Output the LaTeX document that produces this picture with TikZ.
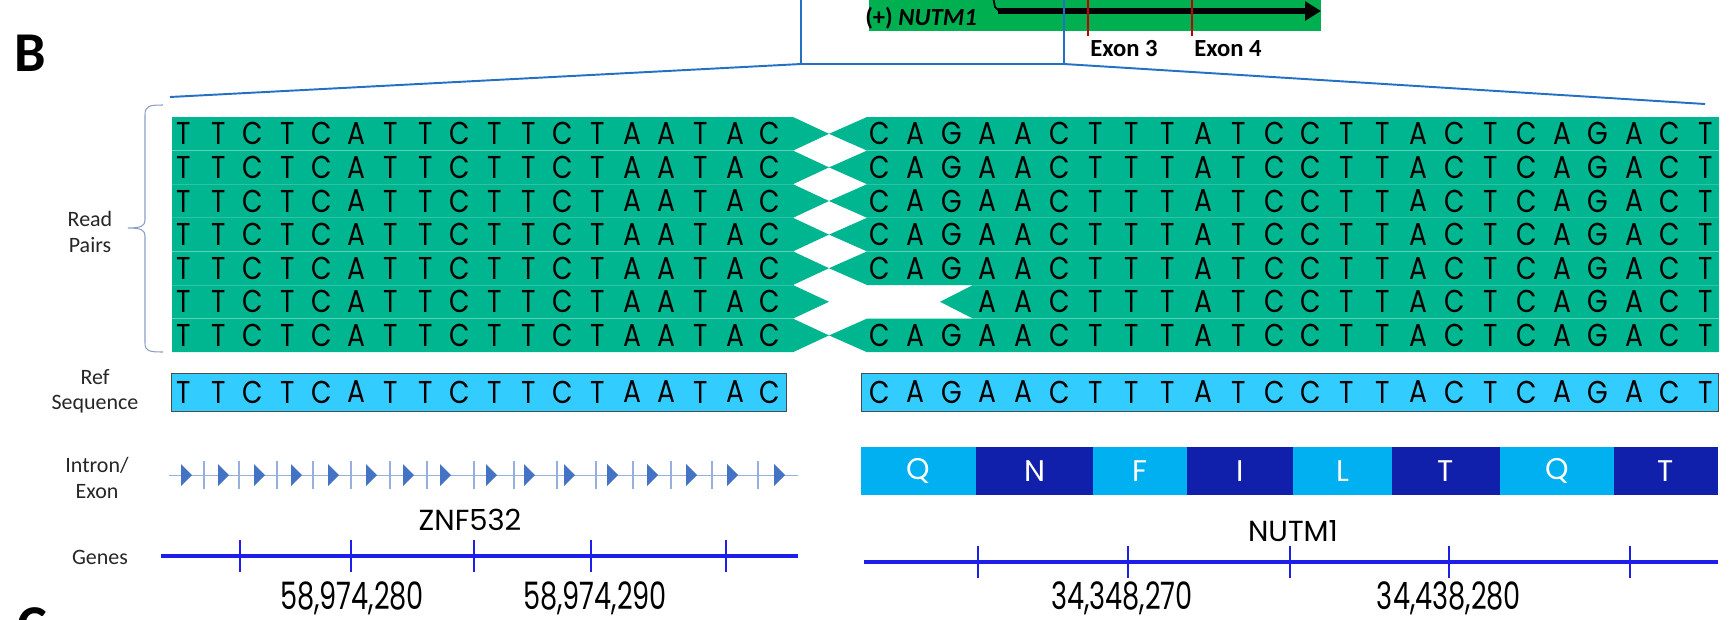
\documentclass[tikz,border=0pt]{standalone}
\usepackage{fontspec}
\setmainfont{Carlito}
\newfontfamily\seqf[FakeStretch=0.84]{Poppins}
\newfontfamily\numf[FakeStretch=0.72]{Poppins}
\newfontfamily\geof{Poppins}
\usetikzlibrary{arrows.meta}
\definecolor{readfill}{RGB}{0,182,144}
\definecolor{topgreen}{RGB}{0,176,80}
\definecolor{refblue}{RGB}{51,204,255}
\definecolor{aalight}{RGB}{0,176,240}
\definecolor{aadark}{RGB}{17,32,170}
\definecolor{geneblue}{RGB}{30,30,235}
\definecolor{tri}{RGB}{68,114,196}
\definecolor{trilight}{RGB}{150,175,222}
\definecolor{zoomblue}{RGB}{35,112,196}
\definecolor{bracecol}{RGB}{140,158,200}
\definecolor{exonred}{RGB}{192,0,0}
\tikzset{
  seq/.style={font=\seqf\fontsize{18}{18}\selectfont, inner sep=0pt},
  aa/.style={font=\geof\fontsize{17}{17}\selectfont, inner sep=0pt, text=white},
  num/.style={font=\numf\fontsize{21.5}{21.5}\selectfont, inner sep=0pt, anchor=base},
  gname/.style={font=\geof\fontsize{16.5}{16.5}\selectfont, inner sep=0pt, anchor=base},
  lbl/.style={font=\fontsize{12.5}{14.5}\selectfont, align=center, text=black!85, inner sep=0pt},
  exlbl/.style={font=\bfseries\fontsize{14}{14}\selectfont, inner sep=0pt},
  panel/.style={font=\bfseries\fontsize{32}{32}\selectfont, inner sep=0pt},
  refbox/.style={fill=refblue, draw=black!70, line width=0.4pt},
  geneline/.style={draw=geneblue, line width=2.3pt},
  genetick/.style={draw=geneblue, line width=1.3pt},
  zoomline/.style={draw=zoomblue, line width=1.1pt},
  sep/.style={draw=white, opacity=0.18, line width=0.4pt},
}
\begin{document}
\begin{tikzpicture}[x=0.02cm,y=-0.02cm]
\useasboundingbox (0,0) rectangle (1736,619);
\clip (0,0) rectangle (1736,619);

% ---------- top gene bar ----------
\fill[topgreen] (869,-5) rectangle (1321,31);
\node[exlbl, anchor=base] (plusnut) at (921,25) {(+) \textit{NUTM1}};
\draw[line width=3pt, -{Triangle[length=9pt,width=10.5pt]}] (998,11) -- (1321,11);
\draw[line width=1pt] (993,-3) -- (995,7) -- (999,11);
\draw[exonred, line width=1.2pt] (1088,-5) -- (1088,36);
\draw[exonred, line width=1.2pt] (1192,-5) -- (1192,36);
\node[exlbl] (ex3) at (1124,49) {Exon 3};
\node[exlbl] (ex4) at (1228,49) {Exon 4};

% zoom box and lines
\coordinate (boxBL) at (801,64);
\coordinate (boxBR) at (1064,64);
\coordinate (boxTL) at (801,-5);
\coordinate (boxTR) at (1064,-5);
\coordinate (zL) at (170,97);
\coordinate (zR) at (1705,104);
\draw[zoomblue, line width=1.6pt] (boxTL) -- (boxBL) -- (boxBR) -- (boxTR);
\draw[zoomline] (boxBL) -- (zL);
\draw[zoomline] (boxBR) -- (zR);

% panel labels
\node[panel] (panB) at (30,53) {B};
\node[panel] (panC) at (32,626) {C};

% ---------- read pairs ----------
\foreach \r in {0,...,6}{
  \pgfmathsetmacro\yt{117+33.6*\r}
  \pgfmathsetmacro\yc{\yt+16.8}
  \pgfmathsetmacro\yb{\yt+33.6}
  \fill[readfill] (172,\yt) -- (793,\yt) -- (829,\yc) -- (793,\yb) -- (172,\yb) -- cycle;
  \ifnum\r=5
    \fill[readfill] (1719,\yt) -- (973,\yt) -- (940,\yc) -- (973,\yb) -- (1719,\yb) -- cycle;
  \else
    \fill[readfill] (1719,\yt) -- (867,\yt) -- (829,\yc) -- (867,\yb) -- (1719,\yb) -- cycle;
  \fi
}
\foreach \r in {1,...,6}{
  \pgfmathsetmacro\yb{117+33.6*\r}
  \draw[sep] (172,\yb) -- (793,\yb);
  \ifnum\r>4
    \draw[sep] (973,\yb) -- (1719,\yb);
  \else
    \draw[sep] (867,\yb) -- (1719,\yb);
  \fi
}
\foreach \r in {0,...,6}{
  \pgfmathsetmacro\yc{117+33.6*\r+16.8}
  \foreach \l [count=\i from 0] in {T,T,C,T,C,A,T,T,C,T,T,C,T,A,A,T,A,C}{
    \node[seq] (L\r-\i) at ({184+\i*34.47},\yc) {\l};
  }
}
\foreach \r in {0,1,2,3,4,6}{
  \pgfmathsetmacro\yc{117+33.6*\r+16.8}
  \foreach \l [count=\i from 0] in {C,A,G,A,A,C,T,T,T,A,T,C,C,T,T,A,C,T,C,A,G,A,C,T}{
    \node[seq] (R\r-\i) at ({880+\i*35.91},\yc) {\l};
  }
}
\foreach \l [count=\i from 3] in {A,A,C,T,T,T,A,T,C,C,T,T,A,C,T,C,A,G,A,C,T}{
  \node[seq] (R5-\i) at ({880+\i*35.91},{117+33.6*5+16.8}) {\l};
}

% brace
\draw[bracecol, line width=0.6pt] (163,105) .. controls (149,105) and (145,106) .. (145,115)
  -- (145,220) .. controls (145,226) and (141,228) .. (128,228)
  .. controls (141,228) and (145,230) .. (145,236)
  -- (145,343) .. controls (145,351) and (149,352) .. (163,352);

% ---------- row labels ----------
\node[lbl] (readpairs) at (90,232) {Read\\Pairs};
\node[lbl] (refseq) at (95,391) {Ref\\Sequence};
\node[lbl] (intron) at (97,478) {Intron/\\Exon};
\node[lbl] (genes) at (100,557) {Genes};

% ---------- reference sequence ----------
\draw[refbox] (171,373) rectangle (786,411);
\draw[refbox] (861,373) rectangle (1718,411);
\foreach \l [count=\i from 0] in {T,T,C,T,C,A,T,T,C,T,T,C,T,A,A,T,A,C}{
  \node[seq] (RefL-\i) at ({184+\i*34.47},392) {\l};
}
\foreach \l [count=\i from 0] in {C,A,G,A,A,C,T,T,T,A,T,C,C,T,T,A,C,T,C,A,G,A,C,T}{
  \node[seq] (RefR-\i) at ({880+\i*35.91},392) {\l};
}

% ---------- intron / exon ----------
\draw[trilight, line width=0.5pt] (169,475) -- (798,475);
\foreach \x in {204,239,277,313,351,390,427,474,514,557,596,633,671,712,758}{
  \draw[trilight, line width=0.6pt] (\x,461) -- (\x,489);
}
\foreach \x in {186,223,259,296,333,371,408,445,491,529,569,612,652,691,732,779}{
  \fill[tri] ({\x-5},464) -- ({\x+6},475) -- ({\x-5},486) -- cycle;
}

\foreach \a/\b/\c/\t [count=\k] in {861/976/aalight/Q,976/1093/aadark/N,1093/1187/aalight/F,1187/1293/aadark/I,1293/1392/aalight/L,1392/1500/aadark/T,1500/1614/aalight/Q,1614/1718/aadark/T}{
  \fill[\c] (\a,447) rectangle (\b,495);
  \node[aa] (aa\k) at ({(\a+\b)/2},471) {\t};
}

% ---------- genes ----------
\draw[geneline] (161,556) -- (798,556);
\foreach \x in {240,351,474,591,726}{
  \draw[genetick] (\x,540) -- (\x,572);
}
\draw[geneline] (864,562) -- (1718,562);
\foreach \x in {978,1128,1290,1449,1630}{
  \draw[genetick] (\x,546) -- (\x,578);
}
\node[gname] (znf) at (470,530) {ZNF532};
\node[gname] (nutm) at (1293,541) {NUTM1};
\node[num] (n1) at (352,609) {58,974,280};
\node[num] (n2) at (595,609) {58,974,290};
\node[num] (n3) at (1122,609) {34,348,270};
\node[num] (n4) at (1449,609) {34,438,280};
\end{tikzpicture}
\end{document}
